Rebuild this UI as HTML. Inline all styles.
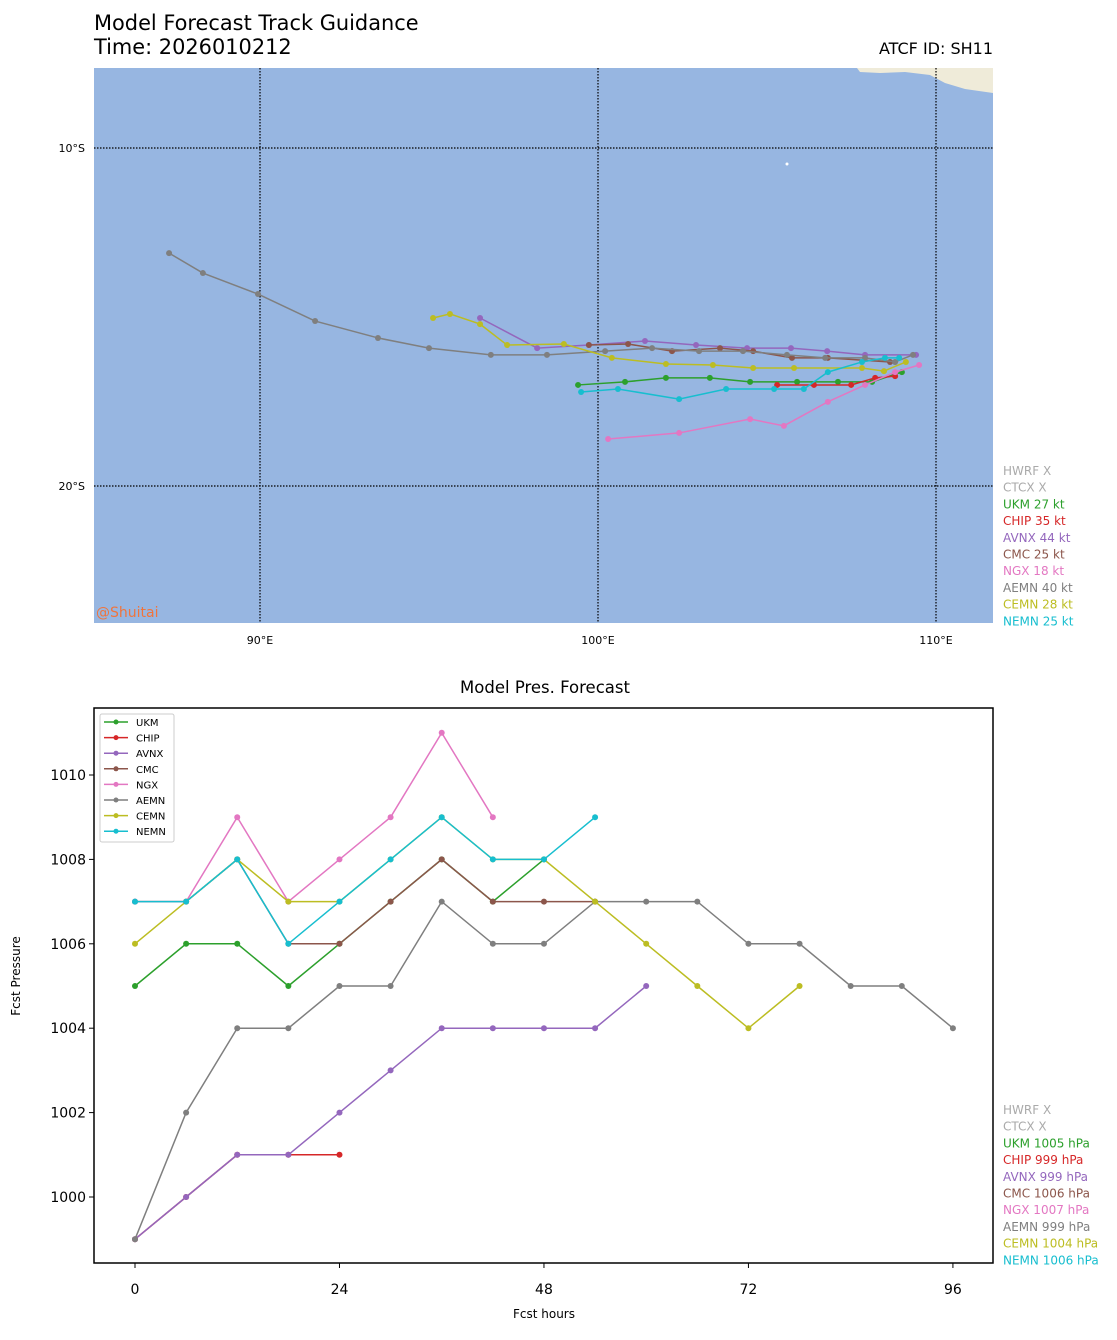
<!DOCTYPE html>
<html><head><meta charset="utf-8"><style>
body{margin:0;background:#fff;font-family:"Liberation Sans","DejaVu Sans",sans-serif}
svg text{font-family:"DejaVu Sans","Liberation Sans",sans-serif}
</style></head><body>
<svg id="s" width="1117" height="1335" xmlns="http://www.w3.org/2000/svg">
<text x="94" y="30" font-size="20.9">Model Forecast Track Guidance</text>
<text x="94" y="54" font-size="20.9">Time: 2026010212</text>
<text x="993" y="54" font-size="16" text-anchor="end">ATCF ID: SH11</text>
<g id="map">
<rect x="94" y="68" width="899" height="555" fill="#97b6e1"/>
<polygon points="857,68 860,72 880,73 905,72 930,75 945,83 965,89 993,93 993,68" fill="#efebd9"/>
<circle cx="787" cy="164" r="1.5" fill="#fff"/>
</g>
<text x="545" y="693" font-size="16.5" text-anchor="middle">Model Pres. Forecast</text>
<g id="pres"></g>
<text x="20" y="976" font-size="12" text-anchor="middle" transform="rotate(-90 20 976)">Fcst Pressure</text>
<text x="544" y="1318" font-size="12" text-anchor="middle">Fcst hours</text>
</svg>
<script>
const models=["UKM","CHIP","AVNX","CMC","NGX","AEMN","CEMN","NEMN"];
const colors=["#2ca02c","#d62728","#9467bd","#8c564b","#e377c2","#7f7f7f","#bcbd22","#17becf"];
const windLabels=["HWRF X","CTCX X","UKM 27 kt","CHIP 35 kt","AVNX 44 kt","CMC 25 kt","NGX 18 kt","AEMN 40 kt","CEMN 28 kt","NEMN 25 kt"];
const presLabels=["HWRF X","CTCX X","UKM 1005 hPa","CHIP 999 hPa","AVNX 999 hPa","CMC 1006 hPa","NGX 1007 hPa","AEMN 999 hPa","CEMN 1004 hPa","NEMN 1006 hPa"];
const labelColors=["#aaaaaa","#aaaaaa","#2ca02c","#d62728","#9467bd","#8c564b","#e377c2","#7f7f7f","#bcbd22","#17becf"];
const lonTicks=[90,100,110];
const latTicks=[10,20];
const trackLon={
UKM:[99.41,100.80,102.01,103.31,104.50,105.89,107.10,108.11,108.99],
CHIP:[105.30,106.39,107.49,108.20,108.79],
AVNX:[96.51,98.20,99.73,101.39,102.90,104.41,105.71,106.78,107.90,109.41],
CMC:[99.73,100.89,102.19,103.61,104.59,105.74,106.80,108.64],
NGX:[100.30,102.40,104.50,105.50,106.80,107.90,108.79,109.50],
AEMN:[87.31,88.31,89.94,91.63,93.49,95.00,96.83,98.49,100.21,101.60,102.99,104.29,105.59,106.72,107.90,108.79,109.32],
CEMN:[95.12,95.62,96.51,97.31,98.99,100.41,102.01,103.40,104.59,105.80,107.81,108.46,109.11],
NEMN:[99.50,100.59,102.40,103.79,105.21,106.09,106.80,107.81,108.49,108.91]};
const trackLat={
UKM:[17.01,16.92,16.80,16.80,16.92,16.92,16.92,16.92,16.63],
CHIP:[17.01,17.01,17.01,16.80,16.75],
AVNX:[15.03,15.92,15.83,15.71,15.83,15.92,15.92,16.01,16.12,16.12],
CMC:[15.83,15.80,16.01,15.92,16.01,16.21,16.21,16.33],
NGX:[18.61,18.43,18.02,18.22,17.51,17.01,16.63,16.42],
AEMN:[13.11,13.70,14.32,15.12,15.62,15.92,16.12,16.12,16.01,15.92,16.01,16.01,16.12,16.21,16.21,16.33,16.12],
CEMN:[15.03,14.91,15.21,15.83,15.80,16.21,16.39,16.42,16.51,16.51,16.51,16.60,16.33],
NEMN:[17.22,17.13,17.43,17.13,17.13,17.13,16.63,16.33,16.21,16.21]};
const hours=[0,6,12,18,24,30,36,42,48,54,60,66,72,78,84,90,96];
const pres={
UKM:[1005,1006,1006,1005,1006,1007,1008,1007,1008],
CHIP:[999,1000,1001,1001,1001],
AVNX:[999,1000,1001,1001,1002,1003,1004,1004,1004,1004,1005],
CMC:[1007,1007,1008,1006,1006,1007,1008,1007,1007,1007],
NGX:[1007,1007,1009,1007,1008,1009,1011,1009],
AEMN:[999,1002,1004,1004,1005,1005,1007,1006,1006,1007,1007,1007,1006,1006,1005,1005,1004],
CEMN:[1006,1007,1008,1007,1007,1008,1009,1008,1008,1007,1006,1005,1004,1005],
NEMN:[1007,1007,1008,1006,1007,1008,1009,1008,1008,1009]};
const xTicks=[0,24,48,72,96];
const yTicks=[1000,1002,1004,1006,1008,1010];
const NS="http://www.w3.org/2000/svg";
function mk(t,a,p){const e=document.createElementNS(NS,t);for(const k in a)e.setAttribute(k,a[k]);p.appendChild(e);return e;}
const lonX=l=>598+(l-100)*33.8, latY=l=>148+(l-10)*33.8;
const map=document.getElementById('map');
lonTicks.forEach(l=>{const x=lonX(l);
 const g=mk('line',{x1:x,x2:x,y1:68,y2:623,stroke:'#000','stroke-dasharray':'1.5,1.5','stroke-width':1.2},map);
 
 
 const t=mk('text',{x:x,y:644,'font-size':11,'text-anchor':'middle'},map);t.textContent=l+'°E';
 
 });
latTicks.forEach(l=>{const y=latY(l);
 const g=mk('line',{x1:94,x2:993,y1:y,y2:y,stroke:'#000','stroke-dasharray':'1.5,1.5','stroke-width':1.2},map);
 
 
 const t=mk('text',{x:85,y:y+4,'font-size':11,'text-anchor':'end'},map);t.textContent=l+'°S';
 
 });
models.forEach((m,i)=>{const g=mk('g',{},map);
 
 
 const pts=trackLon[m].map((l,j)=>[lonX(l),latY(trackLat[m][j])]);
 mk('polyline',{points:pts.map(p=>p.join(',')).join(' '),fill:'none',stroke:colors[i],'stroke-width':1.5},g);
 pts.forEach(p=>mk('circle',{cx:p[0],cy:p[1],r:3,fill:colors[i]},g));});
const wm=mk('text',{x:96,y:617,'font-size':14,fill:'#f0743c'},map);wm.textContent='@Shuitai';


const s=document.getElementById('s');
windLabels.forEach((t,i)=>{const e=mk('text',{x:1003,y:475+i*16.7,'font-size':12,fill:labelColors[i]},s);e.textContent=t;
 
 });
presLabels.forEach((t,i)=>{const e=mk('text',{x:1003,y:1114+i*16.7,'font-size':12,fill:labelColors[i]},s);e.textContent=t;
 
 });
const pg=document.getElementById('pres');
const hx=h=>135+h*8.52, py=p=>1197-(p-1000)*42.2;
mk('rect',{x:94,y:708,width:899,height:555,fill:'#fff',stroke:'#000','stroke-width':1.5},pg);
xTicks.forEach(h=>{mk('line',{x1:hx(h),x2:hx(h),y1:1263,y2:1268,stroke:'#000'},pg);
 const t=mk('text',{x:hx(h),y:1294,'font-size':14,'text-anchor':'middle'},pg);t.textContent=h;
 
 });
yTicks.forEach(p=>{mk('line',{x1:89,x2:94,y1:py(p),y2:py(p),stroke:'#000'},pg);
 const t=mk('text',{x:86,y:py(p)+5,'font-size':14,'text-anchor':'end'},pg);t.textContent=p;
 
 });
models.forEach((m,i)=>{const g=mk('g',{},pg);
 
 
 const pts=pres[m].map((v,j)=>[hx(hours[j]),py(v)]);
 mk('polyline',{points:pts.map(p=>p.join(',')).join(' '),fill:'none',stroke:colors[i],'stroke-width':1.5},g);
 pts.forEach(p=>mk('circle',{cx:p[0],cy:p[1],r:3,fill:colors[i]},g));});
const lg=mk('g',{},pg);


mk('rect',{x:100,y:714,width:74,height:128,fill:'#fff',stroke:'#ccc',rx:2},lg);
models.forEach((m,i)=>{const y=722+i*15.6;
 mk('line',{x1:104,x2:128,y1:y,y2:y,stroke:colors[i],'stroke-width':1.5},lg);
 mk('circle',{cx:116,cy:y,r:2.5,fill:colors[i]},lg);
 const t=mk('text',{x:136,y:y+4,'font-size':10},lg);t.textContent=m;
 
 });
</script>
</body></html>
